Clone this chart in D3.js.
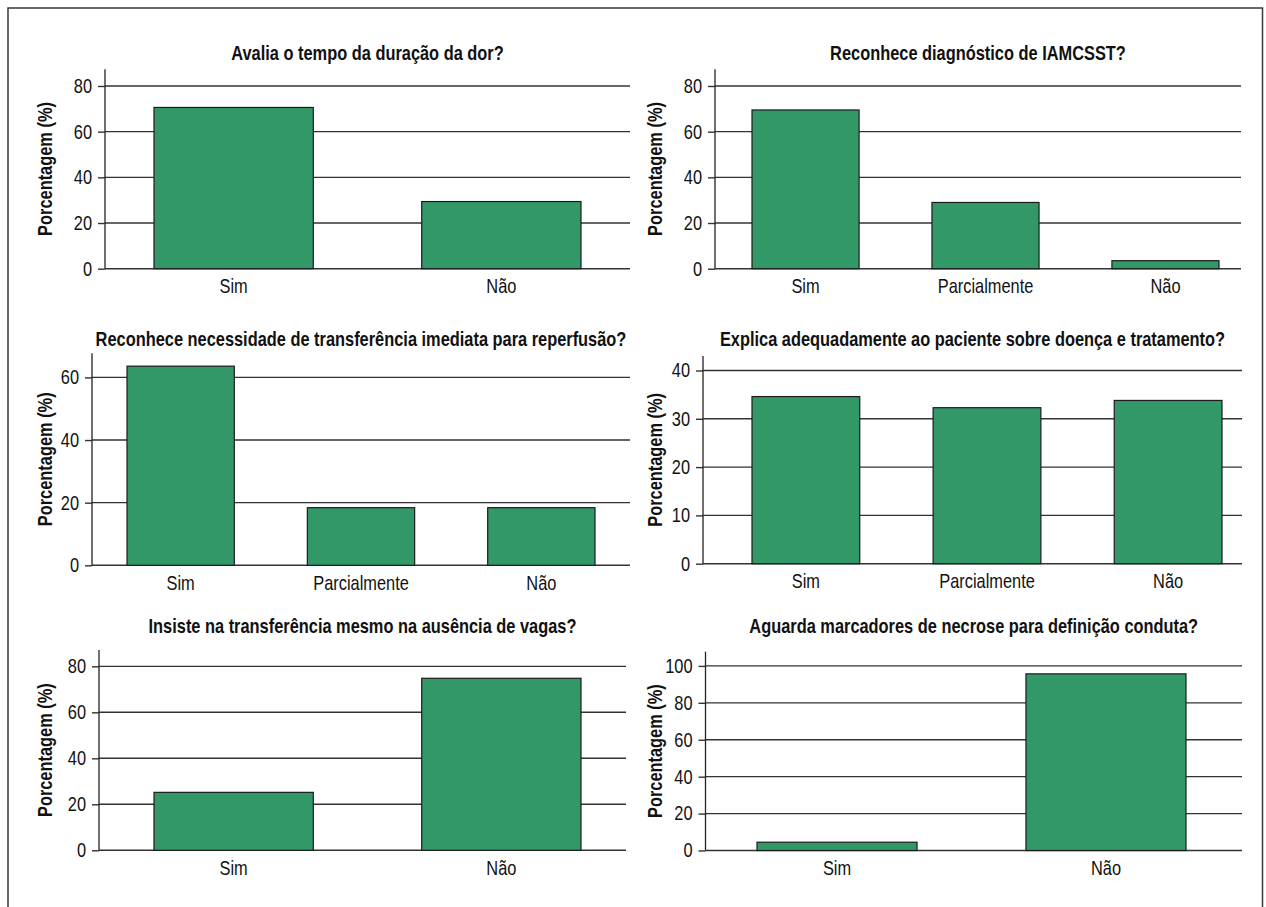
<!DOCTYPE html>
<html lang="pt-BR">
<head>
<meta charset="utf-8">
<title>Conduta frente ao IAMCSST</title>
<script src="https://cdn.jsdelivr.net/npm/d3@7"></script>
<style>
  html, body { margin: 0; padding: 0; background: #ffffff; }
  svg { display: block; }
  text { fill: #111; }
</style>
</head>
<body>
<svg id="chart" width="1266" height="907"></svg>
<script>
// Perguntas (títulos de cada painel)
const questions = [
  "Avalia o tempo da duração da dor?",
  "Reconhece diagnóstico de IAMCSST?",
  "Reconhece necessidade de transferência imediata para reperfusão?",
  "Explica adequadamente ao paciente sobre doença e tratamento?",
  "Insiste na transferência mesmo na ausência de vagas?",
  "Aguarda marcadores de necrose para definição conduta?"
];

// Categorias de resposta
const answersTwo = ["Sim", "Não"];
const answersThree = ["Sim", "Parcialmente", "Não"];

// Porcentagens de cada resposta
const avaliaDuracaoDor = [70.6, 29.4];
const reconheceDiagnostico = [69.5, 29.0, 3.5];
const reconheceTransferencia = [63.6, 18.4, 18.4];
const explicaPaciente = [34.6, 32.3, 33.8];
const insisteTransferencia = [25.2, 74.8];
const aguardaMarcadores = [4.5, 95.7];

// Marcas do eixo Y e limite superior de cada eixo
const ticks0to80 = [0, 20, 40, 60, 80];
const ticks0to60 = [0, 20, 40, 60];
const ticks0to40 = [0, 10, 20, 30, 40];
const ticks0to100 = [0, 20, 40, 60, 80, 100];
const axisMax = [87.3, 87.3, 67.7, 43, 87.1, 107.7];

const yLabel = "Porcentagem (%)";

// Geometria de cada painel (pixels)
const panels = [
  { title: questions[0], cats: answersTwo,   values: avaliaDuracaoDor,       ticks: ticks0to80,  max: axisMax[0],
    axisX: 105,   right: 630,  top: 69.3,  bottom: 268.7, band: [154, 581],  titleY: 60,    labelX: 44.5 },
  { title: questions[1], cats: answersThree, values: reconheceDiagnostico,   ticks: ticks0to80,  max: axisMax[1],
    axisX: 715,   right: 1241, top: 69.3,  bottom: 268.7, band: [752, 1219], titleY: 60,    labelX: 654.5 },
  { title: questions[2], cats: answersThree, values: reconheceTransferencia, ticks: ticks0to60,  max: axisMax[2],
    axisX: 92,    right: 630,  top: 353.3, bottom: 565.3, band: [127, 595],  titleY: 345.7, labelX: 44.5 },
  { title: questions[3], cats: answersThree, values: explicaPaciente,        ticks: ticks0to40,  max: axisMax[3],
    axisX: 703,   right: 1242, top: 356,   bottom: 563.7, band: [752, 1222], titleY: 345.7, labelX: 654.5 },
  { title: questions[4], cats: answersTwo,   values: insisteTransferencia,   ticks: ticks0to80,  max: axisMax[4],
    axisX: 99,    right: 626,  top: 650,   bottom: 850.3, band: [154, 581],  titleY: 633.3, labelX: 44.5 },
  { title: questions[5], cats: answersTwo,   values: aguardaMarcadores,      ticks: ticks0to100, max: axisMax[5],
    axisX: 705.5, right: 1242, top: 651.7, bottom: 850.5, band: [757, 1186], titleY: 633.3, labelX: 654.5 }
];

// Fonte estreita: usa Liberation Sans Narrow se existir; caso contrário,
// comprime a Liberation Sans horizontalmente em torno do ponto de ancoragem.
const NARROW = 0.82;
const narrowAvailable = (() => {
  const ctx = document.createElement("canvas").getContext("2d");
  const s = "Porcentagem Parcialmente 0123456789";
  ctx.font = "20px 'Liberation Sans'";
  const wide = ctx.measureText(s).width;
  ctx.font = "20px 'Liberation Sans Narrow', 'Liberation Sans'";
  const narrow = ctx.measureText(s).width;
  return narrow / wide < 0.9;
})();
const FONT = narrowAvailable
  ? "'Liberation Sans Narrow', 'Arial Narrow', sans-serif"
  : "'Liberation Sans', Arial, sans-serif";

function condense(selection) {
  selection.attr("font-family", FONT);
  if (narrowAvailable) return;
  selection.each(function () {
    const ax = +(this.getAttribute("x") || 0);
    const prev = this.getAttribute("transform") || "";
    this.setAttribute("transform",
      `${prev} translate(${ax},0) scale(${NARROW},1) translate(${-ax},0)`.trim());
  });
}

const svg = d3.select("#chart");

// Moldura externa da figura
svg.append("rect")
  .attr("x", 8).attr("y", 8)
  .attr("width", 1254.5).attr("height", 910)
  .attr("fill", "none")
  .attr("stroke", "#3a3a3a")
  .attr("stroke-width", 1.5);

panels.forEach(p => {
  const g = svg.append("g");

  const y = d3.scaleLinear().domain([0, p.max]).range([p.bottom, p.top]);
  const x = d3.scaleBand().domain(p.cats).range(p.band)
    .paddingInner(0.405).paddingOuter(0);

  // Linhas de grade horizontais
  g.append("g").selectAll("line")
    .data(p.ticks)
    .join("line")
    .attr("x1", p.axisX).attr("x2", p.right)
    .attr("y1", d => y(d)).attr("y2", d => y(d))
    .attr("stroke", "#333")
    .attr("stroke-width", 1.4);

  // Eixo Y
  const yAxis = g.append("g")
    .attr("transform", `translate(${p.axisX},0)`)
    .call(d3.axisLeft(y).tickValues(p.ticks).tickSize(7).tickPadding(6).tickSizeOuter(0));
  yAxis.select(".domain").remove();
  yAxis.selectAll(".tick line").attr("stroke", "#333").attr("stroke-width", 1.4);
  yAxis.selectAll(".tick text")
    .attr("font-size", 20)
    .attr("fill", "#111")
    .call(condense);
  yAxis.append("line")
    .attr("x1", 0).attr("x2", 0)
    .attr("y1", y(p.max)).attr("y2", y(0))
    .attr("stroke", "#222")
    .attr("stroke-width", 1.3);

  // Barras
  g.append("g").selectAll("rect")
    .data(p.values)
    .join("rect")
    .attr("x", (d, i) => x(p.cats[i]))
    .attr("y", d => y(d))
    .attr("width", x.bandwidth())
    .attr("height", d => y(0) - y(d))
    .attr("fill", "#329867")
    .attr("stroke", "#1c1c1c")
    .attr("stroke-width", 1.2);

  // Eixo X (rótulos das categorias)
  const xAxis = g.append("g")
    .attr("transform", `translate(0,${p.bottom})`)
    .call(d3.axisBottom(x).tickSize(0).tickPadding(0));
  xAxis.select(".domain").remove();
  xAxis.selectAll(".tick text")
    .attr("y", 24.5).attr("dy", 0)
    .attr("font-size", 20)
    .attr("fill", "#111")
    .call(condense);

  // Título do painel
  g.append("text")
    .attr("x", (p.axisX + p.right) / 2)
    .attr("y", p.titleY)
    .attr("text-anchor", "middle")
    .attr("font-size", 20)
    .attr("font-weight", "bold")
    .text(p.title)
    .call(condense);

  // Rótulo do eixo Y
  g.append("text")
    .attr("transform", `translate(${p.labelX},${(p.top + p.bottom) / 2}) rotate(-90)`)
    .attr("text-anchor", "middle")
    .attr("dy", "0.36em")
    .attr("font-size", 20)
    .attr("font-weight", "bold")
    .text(yLabel)
    .call(condense);
});
</script>
</body>
</html>
